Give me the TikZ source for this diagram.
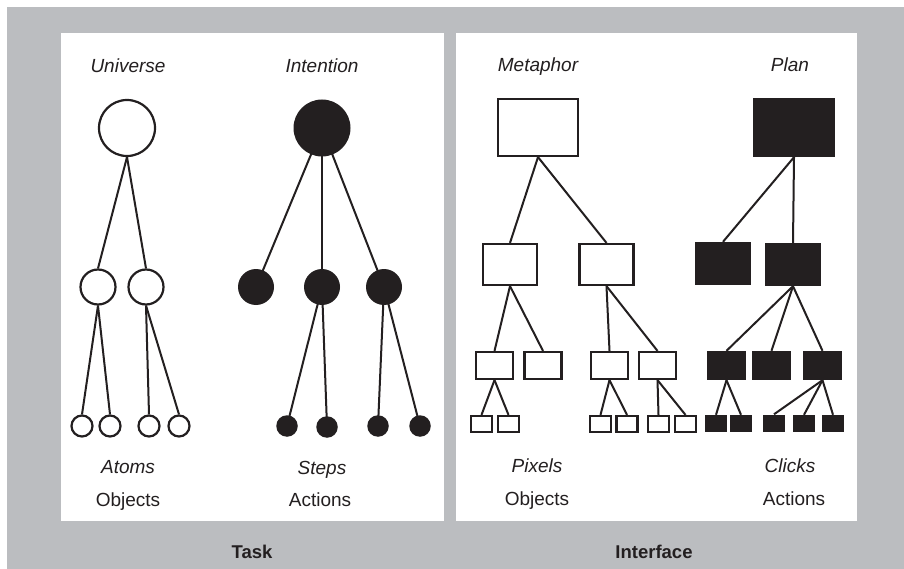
\documentclass[tikz,border=0pt]{standalone}
\usepackage{fontspec}
\setmainfont{Liberation Sans}
\definecolor{framegray}{RGB}{187,189,192}
\definecolor{ink}{RGB}{35,31,32}
\tikzset{
	opendot/.style = {circle, draw=ink, line width=2.2pt, fill=white, inner sep=0pt},
	fulldot/.style = {circle, fill=ink, inner sep=0pt},
	openbox/.style = {rectangle, draw=ink, line width=2.2pt, fill=white, inner sep=0pt},
	fullbox/.style = {rectangle, fill=ink, inner sep=0pt},
	link/.style = {draw=ink, line width=2pt},
	termlabel/.style = {anchor=base, font=\fontsize{19}{21}\selectfont\itshape, text=ink},
	kindlabel/.style = {anchor=base, font=\fontsize{19}{21}\selectfont, text=ink},
	sidelabel/.style = {anchor=base, font=\fontsize{18.5}{21}\selectfont\bfseries, text=ink}
}

\begin{document}
\begin{tikzpicture}[x=1pt, y=-1pt]
	\useasboundingbox (0,0) rectangle (904,569);
	\fill[framegray] (7,7) rectangle (904,569);
	\fill[white] (61,33) rectangle (444,521);
	\fill[white] (456,33) rectangle (857,521);

	% task: objects
	\node[termlabel] (universe) at (128,73) {Universe};
	\node[opendot, minimum size=56pt] (uni) at (127,128) {};
	\node[opendot, minimum size=35pt] (u1) at (98,287) {};
	\node[opendot, minimum size=35pt] (u2) at (146,287) {};
	\node[opendot, minimum size=21pt] (u11) at (82,426) {};
	\node[opendot, minimum size=21pt] (u12) at (110,426) {};
	\node[opendot, minimum size=21pt] (u21) at (149,426) {};
	\node[opendot, minimum size=21pt] (u22) at (179,426) {};
	\draw[link] (uni.south)--(u1.north); \draw[link] (uni.south)--(u2.north);
	\draw[link] (u1.south)--(u11.north); \draw[link] (u1.south)--(u12.north);
	\draw[link] (u2.south)--(u21.north); \draw[link] (u2.south)--(u22.north);
	\node[termlabel] (atoms) at (128,473) {Atoms};
	\node[kindlabel] (tobj) at (128,506) {Objects};

	% task: actions
	\node[termlabel] (intention) at (322,73) {Intention};
	\node[fulldot, minimum size=57pt] (int) at (322,128) {};
	\node[fulldot, minimum size=36pt] (i1) at (256,287) {};
	\node[fulldot, minimum size=36pt] (i2) at (322,287) {};
	\node[fulldot, minimum size=36pt] (i3) at (384,287) {};
	\node[fulldot, minimum size=21.5pt] (i21) at (287,426) {};
	\node[fulldot, minimum size=21.5pt] (i22) at (327,427) {};
	\node[fulldot, minimum size=21.5pt] (i31) at (378,426) {};
	\node[fulldot, minimum size=21.5pt] (i32) at (420,426) {};
	\draw[link] (int.center)--(i1.center); \draw[link] (int.center)--(i2.center);
	\draw[link] (int.center)--(i3.center);
	\draw[link] (i2.center)--(i21.center); \draw[link] (i2.center)--(i22.center);
	\draw[link] (i3.center)--(i31.center); \draw[link] (i3.center)--(i32.center);
	\node[termlabel] (steps) at (322,474) {Steps};
	\node[kindlabel] (tact) at (320,506) {Actions};

	% interface: objects
	\node[termlabel] (metaphor) at (538,72) {Metaphor};
	\node[openbox, minimum width=80pt, minimum height=57pt] (met) at (538,127.5) {};
	\node[openbox, minimum width=54pt, minimum height=41pt] (m1) at (510,264.5) {};
	\node[openbox, minimum width=54pt, minimum height=41pt] (m2) at (606.5,264.5) {};
	\node[openbox, minimum width=37pt, minimum height=27pt] (m11) at (494.5,365.5) {};
	\node[openbox, minimum width=37pt, minimum height=27pt] (m12) at (543,365.5) {};
	\node[openbox, minimum width=37pt, minimum height=27pt] (m21) at (609.5,365.5) {};
	\node[openbox, minimum width=37pt, minimum height=27pt] (m22) at (657.5,365.5) {};
	\node[openbox, minimum width=21pt, minimum height=16pt] (m111) at (481.5,424) {};
	\node[openbox, minimum width=21pt, minimum height=16pt] (m112) at (508.5,424) {};
	\node[openbox, minimum width=21pt, minimum height=16pt] (m211) at (600.5,424) {};
	\node[openbox, minimum width=21pt, minimum height=16pt] (m212) at (627,424) {};
	\node[openbox, minimum width=21pt, minimum height=16pt] (m221) at (658.5,424) {};
	\node[openbox, minimum width=21pt, minimum height=16pt] (m222) at (685.5,424) {};
	\draw[link] (met.south)--(m1.north); \draw[link] (met.south)--(m2.north);
	\draw[link] (m1.south)--(m11.north); \draw[link] (m1.south)--(m12.north);
	\draw[link] (m2.south)--(m21.north); \draw[link] (m2.south)--(m22.north);
	\draw[link] (m11.south)--(m111.north); \draw[link] (m11.south)--(m112.north);
	\draw[link] (m21.south)--(m211.north); \draw[link] (m21.south)--(m212.north);
	\draw[link] (m22.south)--(m221.north); \draw[link] (m22.south)--(m222.north);
	\node[termlabel] (pixels) at (537,472) {Pixels};
	\node[kindlabel] (iobj) at (537,505) {Objects};

	% interface: actions
	\node[termlabel] (plan) at (790,72) {Plan};
	\node[fullbox, minimum width=82pt, minimum height=59pt] (pl) at (794,127.5) {};
	\node[fullbox, minimum width=56pt, minimum height=43pt] (p1) at (723,263.5) {};
	\node[fullbox, minimum width=56pt, minimum height=43pt] (p2) at (793,264.5) {};
	\node[fullbox, minimum width=39pt, minimum height=29pt] (p21) at (726.5,365.5) {};
	\node[fullbox, minimum width=39pt, minimum height=29pt] (p22) at (771.5,365.5) {};
	\node[fullbox, minimum width=39pt, minimum height=29pt] (p23) at (822.5,365.5) {};
	\node[fullbox, minimum width=22pt, minimum height=17pt] (p211) at (716,423.5) {};
	\node[fullbox, minimum width=22pt, minimum height=17pt] (p212) at (741,423.5) {};
	\node[fullbox, minimum width=22pt, minimum height=17pt] (p231) at (774,423) {};
	\node[fullbox, minimum width=22pt, minimum height=17pt] (p232) at (804,423.5) {};
	\node[fullbox, minimum width=22pt, minimum height=17pt] (p233) at (833,423.5) {};
	\draw[link] (pl.south)--(p1.north); \draw[link] (pl.south)--(p2.north);
	\draw[link] (p2.south)--(p21.north); \draw[link] (p2.south)--(p22.north);
	\draw[link] (p2.south)--(p23.north);
	\draw[link] (p21.south)--(p211.north); \draw[link] (p21.south)--(p212.north);
	\draw[link] (p23.south)--(p231.north); \draw[link] (p23.south)--(p232.north);
	\draw[link] (p23.south)--(p233.north);
	\node[termlabel] (clicks) at (790,472) {Clicks};
	\node[kindlabel] (iact) at (794,505) {Actions};

	\node[sidelabel] (task) at (252,558) {Task};
	\node[sidelabel] (iface) at (654,558) {Interface};
\end{tikzpicture}
\end{document}
